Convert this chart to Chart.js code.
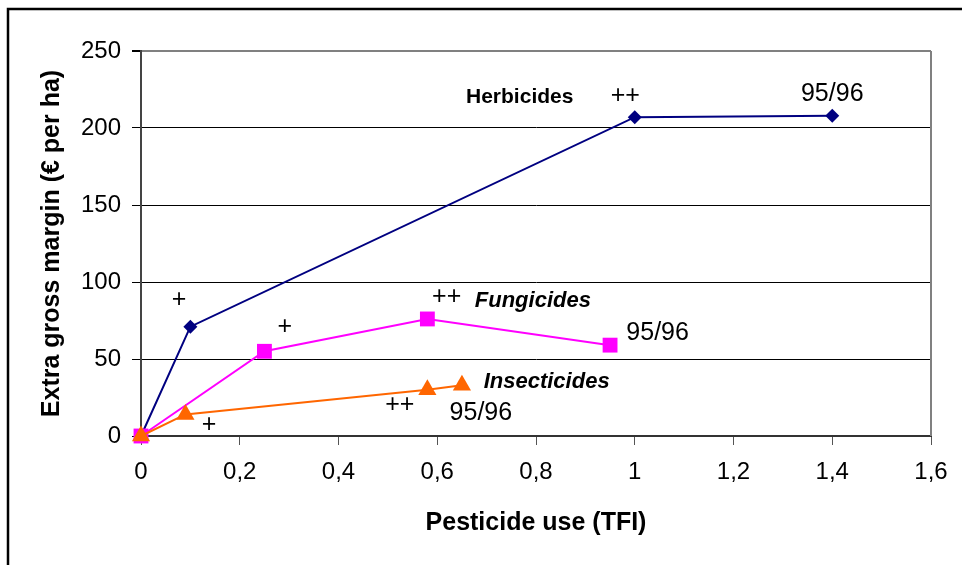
<!DOCTYPE html>
<html>
<head>
<meta charset="utf-8">
<script src="https://cdn.jsdelivr.net/npm/chart.js@4"></script>
<style>
  html, body { margin: 0; padding: 0; background: #fff; }
  #wrap { width: 962px; height: 565px; position: relative; }
</style>
</head>
<body>
<div id="wrap"><canvas id="graph" width="962" height="565"></canvas></div>
<script>
// data
const herbX = [0, 0.1, 1.0, 1.4];
const herbY = [0, 71, 207, 208];
const fungX = [0, 0.25, 0.58, 0.95];
const fungY = [0, 55, 76, 59];
const insX = [0, 0.09, 0.58, 0.65];
const insY = [0, 14, 30, 33];

const xTicks = [0, 0.2, 0.4, 0.6, 0.8, 1, 1.2, 1.4, 1.6];
const yTicks = [0, 50, 100, 150, 200, 250];

// text labels on the plot, in data units
const notes = [
  { text: 'Herbicides', x: 0.767, y: 220, font: 'bold 21px Arial', align: 'center' },
  { text: '++', x: 0.981, y: 221, font: '25px Arial', align: 'center' },
  { text: '95/96', x: 1.40, y: 222, font: '25px Arial', align: 'center' },
  { text: '+', x: 0.077, y: 88, font: '25px Arial', align: 'center' },
  { text: '++', x: 0.619, y: 90, font: '25px Arial', align: 'center' },
  { text: 'Fungicides', x: 0.676, y: 88, font: 'italic bold 22px Arial', align: 'left' },
  { text: '+', x: 0.291, y: 71, font: '25px Arial', align: 'center' },
  { text: '95/96', x: 0.983, y: 67, font: '25px Arial', align: 'left' },
  { text: 'Insecticides', x: 0.694, y: 35, font: 'italic bold 22px Arial', align: 'left' },
  { text: '++', x: 0.524, y: 20, font: '25px Arial', align: 'center' },
  { text: '95/96', x: 0.625, y: 15, font: '25px Arial', align: 'left' },
  { text: '+', x: 0.138, y: 7, font: '25px Arial', align: 'center' }
];

const pts = (xs, ys) => xs.map((x, i) => ({ x: x, y: ys[i] }));

const ctx = document.getElementById('graph').getContext('2d');

const decor = {
  id: 'decor',
  afterDraw(chart) {
    const c = chart.ctx;
    const a = chart.chartArea;
    c.save();
    // outer frame (top and left only)
    c.strokeStyle = '#000';
    c.lineWidth = 2.5;
    c.beginPath();
    c.moveTo(8, 565);
    c.lineTo(8, 9);
    c.lineTo(962, 9);
    c.stroke();
    // plot area right edge
    c.strokeStyle = '#808080';
    c.lineWidth = 2;
    c.beginPath();
    c.moveTo(a.right, a.top);
    c.lineTo(a.right, a.bottom);
    c.stroke();
    // annotations
    c.fillStyle = '#000';
    c.textBaseline = 'middle';
    const xs = chart.scales.x, ys = chart.scales.y;
    notes.forEach(n => {
      c.font = n.font;
      c.textAlign = n.align;
      c.fillText(n.text, xs.getPixelForValue(n.x), ys.getPixelForValue(n.y));
    });
    c.restore();
  }
};

const config = {
  type: 'line',
  data: {
    datasets: [{
      label: 'Insecticides',
      data: pts(insX, insY),
      borderColor: '#FF6600',
      backgroundColor: '#FF6600',
      borderWidth: 2,
      pointStyle: 'triangle',
      pointRadius: 10.5,
      pointBorderWidth: 0,
      clip: false,
      tension: 0
    }, {
      label: 'Fungicides',
      data: pts(fungX, fungY),
      borderColor: '#FF00FF',
      backgroundColor: '#FF00FF',
      borderWidth: 2,
      pointStyle: 'rect',
      pointRadius: 10.5,
      pointBorderWidth: 0,
      clip: false,
      tension: 0
    }, {
      label: 'Herbicides',
      data: pts(herbX, herbY),
      borderColor: '#000080',
      backgroundColor: '#000080',
      borderWidth: 2,
      pointStyle: 'rectRot',
      pointRadius: 7,
      pointBorderWidth: 0,
      clip: false,
      tension: 0
    }]
  },
  options: {
    responsive: false,
    animation: false,
    layout: { padding: { top: 51, right: 31, left: 0, bottom: 0 } },
    plugins: { legend: { display: false }, tooltip: { enabled: false } },
    scales: {
      x: {
        type: 'linear',
        min: 0, max: 1.6,
        afterBuildTicks: s => { s.ticks = xTicks.map(v => ({ value: v })); },
        afterFit: s => { s.height = 129; },
        ticks: {
          color: '#000',
          font: { family: 'Arial', size: 24 },
          padding: 13,
          maxRotation: 0,
          callback: v => String(Number(v.toFixed(1))).replace('.', ',')
        },
        grid: { drawOnChartArea: false, drawTicks: true, tickLength: 9, tickColor: '#555' },
        border: { color: '#333', width: 2 },
        title: {
          display: true,
          text: 'Pesticide use (TFI)',
          color: '#000',
          font: { family: 'Arial', size: 25, weight: 'bold' },
          padding: { top: 0, bottom: 27 }
        }
      },
      y: {
        min: 0, max: 250,
        afterBuildTicks: s => { s.ticks = yTicks.map(v => ({ value: v })); },
        afterFit: s => { s.width = 141; },
        ticks: {
          color: '#000',
          font: { family: 'Arial', size: 24 },
          padding: 11
        },
        grid: {
          color: c => c.tick && c.tick.value === 250 ? '#808080' : '#000',
          lineWidth: c => c.tick && c.tick.value === 250 ? 2 : 1,
          tickColor: '#000',
          tickLength: 9
        },
        border: { color: '#444', width: 2 },
        title: {
          display: true,
          text: 'Extra gross margin (€ per ha)',
          color: '#000',
          font: { family: 'Arial', size: 25, weight: 'bold' },
          padding: { top: 37, bottom: 0 }
        }
      }
    }
  },
  plugins: [decor]
};

const chart = new Chart(ctx, config);
</script>
</body>
</html>
